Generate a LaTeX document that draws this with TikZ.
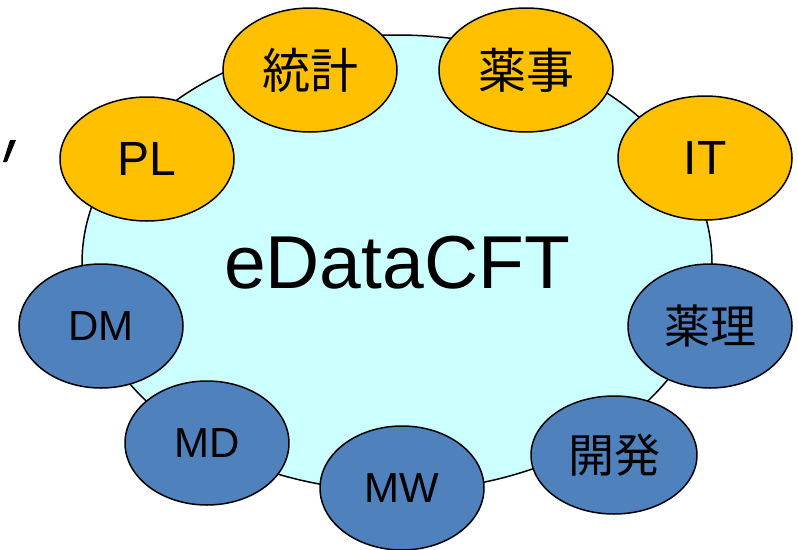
\documentclass[tikz,border=0pt]{standalone}
\usepackage{fontspec}
\setmainfont{Liberation Sans}
\newfontfamily\jpfont{Noto Sans CJK JP}
\usetikzlibrary{shapes.geometric}
\definecolor{hub}{HTML}{CCFFFF}
\definecolor{orangefill}{HTML}{FFC000}
\definecolor{bluefill}{HTML}{4F81BD}
\tikzset{
  bubble/.style={ellipse, draw=black, line width=1.5pt, inner sep=0pt, text=black},
  orangebub/.style={bubble, fill=orangefill, minimum width=174pt, minimum height=124pt,
    font=\fontsize{48}{50}\selectfont},
  bluebub/.style={bubble, fill=bluefill, minimum width=164pt, minimum height=124pt,
    font=\fontsize{42}{44}\selectfont},
  jp/.style={font=\jpfont\fontsize{46}{48}\selectfont},
}
\begin{document}
\begin{tikzpicture}[x=1pt,y=-1pt]
\useasboundingbox (0,0) rectangle (798,549);
% central circle
\node[ellipse, draw=black, line width=1.5pt, fill=hub, minimum width=630pt,
  minimum height=456pt, inner sep=0pt, font=\fontsize{75}{78}\selectfont]
  (hubnode) at (397,263) {eDataCFT};
% orange group
\node[orangebub] (pl) at (147,159) {PL};
\node[orangebub] (stat) at (310,70) {\jpfont 統計};
\node[orangebub] (reg) at (526,70) {\jpfont 薬事};
\node[orangebub] (it) at (705,158) {IT};
% blue group
\node[bluebub, jp] (pharm) at (710,326) {薬理};
\node[bluebub, jp, minimum height=118pt, minimum width=166pt] (dev) at (614,455) {開発};
\node[bluebub] (mw) at (402,488) {MW};
\node[bluebub] (md) at (207,443) {MD};
\node[bluebub] (dm) at (101,326) {DM};
% small stray tick mark at the left
\fill[black] (10,140) -- (16,140) -- (7,162) -- (3,162) -- cycle;
\end{tikzpicture}
\end{document}
